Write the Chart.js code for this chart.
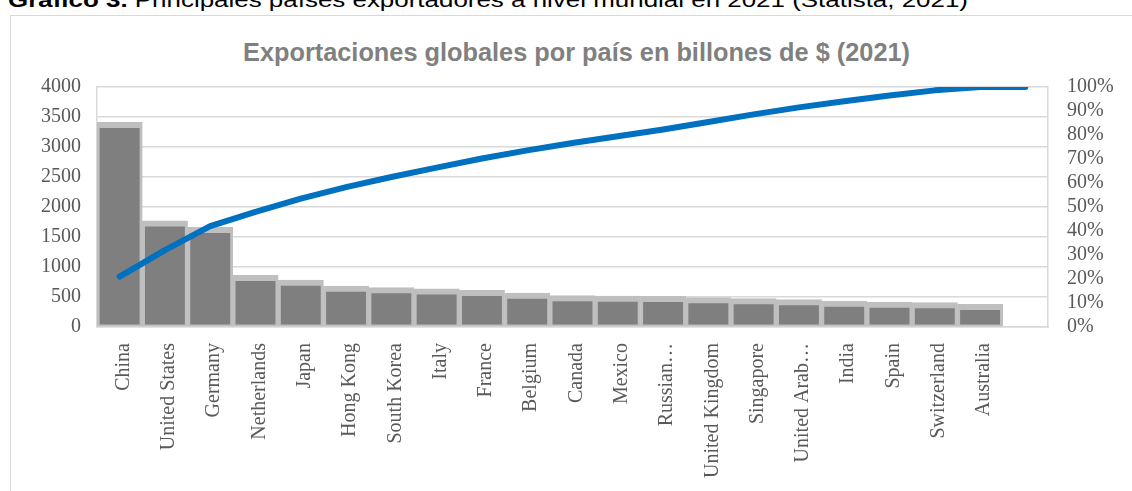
<!DOCTYPE html>
<html>
<head>
<meta charset="utf-8">
<script src="https://cdn.jsdelivr.net/npm/chart.js@4.4.1/dist/chart.umd.min.js"></script>
<style>
  html, body { margin: 0; padding: 0; background: #fff; overflow: hidden; }
  body { width: 1132px; height: 491px; position: relative; }
  #caption {
    position: absolute; left: 8px; top: -11px; white-space: nowrap;
    font-family: "Liberation Sans", Arial, sans-serif; font-size: 21px; line-height: 21px;
    color: #000; transform-origin: 0 0;
  }
  #caption b { font-weight: bold; }
  #frame {
    position: absolute; left: 10px; top: 15px; width: 1200px; height: 600px;
    border: 1px solid #d9d9d9; box-sizing: border-box;
  }
  #title {
    position: absolute; left: 243px; top: 39px; white-space: nowrap;
    font-family: "Liberation Sans Narrow", "Liberation Sans", Arial, sans-serif;
    font-weight: bold; font-size: 26px; line-height: 26px; color: #808080;
    transform-origin: 0 0;
  }
  #wrap { position: absolute; left: 0; top: 0; width: 1132px; height: 491px; }
</style>
</head>
<body>
<div id="caption"><b>Gráfico 3.</b> Principales países exportadores a nivel mundial en 2021 (Statista, 2021)</div>
<div id="frame"></div>
<div id="title">Exportaciones globales por país en billones de $ (2021)</div>
<div id="wrap"><canvas id="paretoChart" width="1132" height="491"></canvas></div>
<script>
// datos
const paises = ['China', 'United States', 'Germany', 'Netherlands', 'Japan', 'Hong Kong',
  'South Korea', 'Italy', 'France', 'Belgium', 'Canada', 'Mexico', 'Russian\u2026',
  'United Kingdom', 'Singapore', 'United Arab\u2026', 'India', 'Spain', 'Switzerland',
  'Australia', ''];
const exportaciones = [3410, 1770, 1660, 860, 780, 680, 655, 635, 610, 565, 525, 515, 512,
  490, 472, 455, 432, 415, 405, 378, null];
const acumulado = [21, 32, 42, 48, 53.5, 58.3, 62.5, 66.4, 70.2, 73.6, 76.7, 79.5, 82.3,
  85.4, 88.6, 91.5, 94.1, 96.5, 98.6, 100, 100];
const ticksIzq = [0, 500, 1000, 1500, 2000, 2500, 3000, 3500, 4000];
const ticksDer = [0, 10, 20, 30, 40, 50, 60, 70, 80, 90, 100];

document.addEventListener('DOMContentLoaded', function() {
  // ajustar ancho de textos html
  function fitWidth(id, target) {
    const el = document.getElementById(id);
    const w = el.getBoundingClientRect().width;
    el.style.transform = 'scaleX(' + (target / w) + ')';
  }
  fitWidth('caption', 960);
  fitWidth('title', 667);

  const fuenteEje = { family: '"Liberation Serif", "Times New Roman", serif', size: 20 };
  const gris = '#d9d9d9';

  const ctx = document.getElementById('paretoChart').getContext('2d');
  new Chart(ctx, {
    data: {
      labels: paises,
      datasets: [{
        type: 'line',
        label: 'Acumulado',
        data: acumulado,
        yAxisID: 'y1',
        borderColor: '#0070c0',
        borderWidth: 6,
        borderCapStyle: 'round',
        borderJoinStyle: 'round',
        pointRadius: 0,
        tension: 0,
        order: 0
      }, {
        type: 'bar',
        label: 'Exportaciones',
        data: exportaciones,
        yAxisID: 'y',
        backgroundColor: '#7f7f7f',
        borderColor: '#bfbfbf',
        borderWidth: { top: 6, left: 3, right: 3, bottom: 2 },
        borderSkipped: false,
        barPercentage: 1,
        categoryPercentage: 1,
        order: 1
      }]
    },
    options: {
      responsive: false,
      animation: false,
      devicePixelRatio: 1,
      layout: { padding: { top: 87, left: 0, right: 0, bottom: 0 } },
      plugins: {
        legend: { display: false },
        tooltip: { enabled: false }
      },
      scales: {
        x: {
          offset: true,
          grid: { display: false, drawTicks: false },
          border: { display: true, color: gris, width: 1.5 },
          ticks: {
            autoSkip: false, maxRotation: 90, minRotation: 90,
            padding: 16, labelOffset: 4, color: '#595959', font: fuenteEje
          },
          afterFit: function(scale) { scale.height = 164; }
        },
        y: {
          position: 'left',
          min: 0, max: 4000,
          afterBuildTicks: function(scale) { scale.ticks = ticksIzq.map(v => ({ value: v })); },
          grid: { color: gris, lineWidth: 1.5, drawTicks: false },
          border: { display: true, color: gris, width: 1.5 },
          ticks: {
            autoSkip: false, padding: 16, color: '#595959', font: fuenteEje,
            callback: function(value) { return String(value); }
          },
          afterFit: function(scale) { scale.width = 97; }
        },
        y1: {
          position: 'right',
          min: 0, max: 100,
          afterBuildTicks: function(scale) { scale.ticks = ticksDer.map(v => ({ value: v })); },
          grid: { display: false, drawTicks: false },
          border: { display: true, color: gris, width: 1.5 },
          ticks: {
            autoSkip: false, padding: 19, color: '#595959', font: fuenteEje,
            callback: function(value) { return value + '%'; }
          },
          afterFit: function(scale) { scale.width = 84; }
        }
      }
    }
  });
});
</script>
</body>
</html>
